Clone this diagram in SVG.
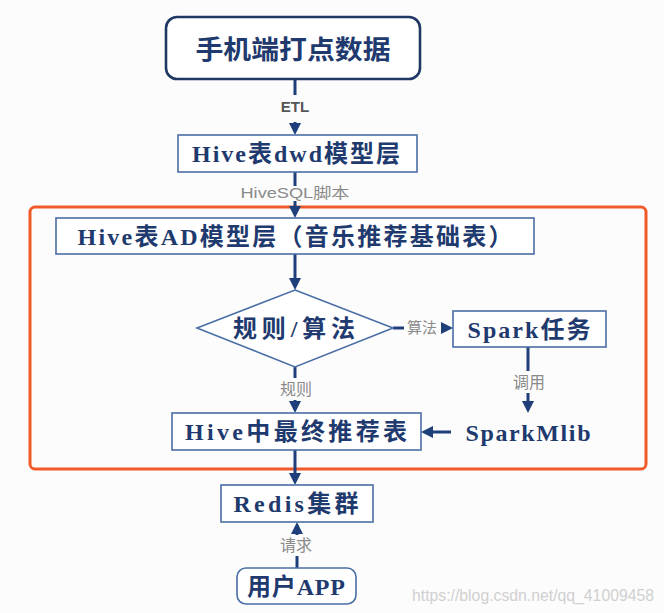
<svg xmlns="http://www.w3.org/2000/svg" width="664" height="613" viewBox="0 0 664 613">
  <style>
    .box { fill: #ffffff; stroke: #4a6ea6; stroke-width: 1.6; }
    .top { fill: #ffffff; stroke: #1f3864; stroke-width: 2.6; }
    .txt { font-family: "Liberation Serif", "Noto Sans CJK SC", serif; font-weight: bold; font-size: 24px; fill: #1f3a6e; text-anchor: middle; }
    .ttl { font-family: "Noto Sans CJK SC", sans-serif; font-weight: bold; font-size: 26px; fill: #1f3a6e; text-anchor: middle; }
    .lbl { font-family: "Liberation Sans", "Noto Sans CJK SC", sans-serif; font-size: 15px; fill: #8a8a8a; text-anchor: middle; }
    .edge { stroke: #1f3f7a; stroke-width: 3; fill: none; }
    .wm { font-family: "Liberation Sans", sans-serif; font-size: 16px; fill: #d0d0d0; }
  </style>
  <defs>
    <marker id="arr" viewBox="0 0 10 10" refX="5" refY="5" markerWidth="12" markerHeight="12" markerUnits="userSpaceOnUse" orient="auto">
      <path d="M0,0 L10,5 L0,10 Z" fill="#1f3f7a"/>
    </marker>
  </defs>
  <rect x="0" y="0" width="664" height="613" fill="#fcfcfc"/>

  <g id="frame">
    <rect x="30" y="207" width="616" height="262" rx="5" fill="none" stroke="#f05a28" stroke-width="3"/>
  </g>

  <g id="connectors">
    <line class="edge" x1="295" y1="79" x2="295" y2="95"/>
    <line class="edge" x1="295" y1="122" x2="295" y2="129" marker-end="url(#arr)"/>
    <text class="lbl" x="295" y="112" font-weight="bold" style="fill:#555555">ETL</text>

    <line class="edge" x1="295" y1="172" x2="295" y2="186"/>
    <line class="edge" x1="295" y1="201" x2="295" y2="212" marker-end="url(#arr)"/>
    <text class="lbl" x="295" y="198" textLength="109" lengthAdjust="spacingAndGlyphs">HiveSQL脚本</text>

    <line class="edge" x1="295" y1="254" x2="295" y2="284" marker-end="url(#arr)"/>

    <line class="edge" x1="393" y1="328" x2="404" y2="328"/>
    <line class="edge" x1="441" y1="328" x2="447" y2="328" marker-end="url(#arr)"/>
    <text class="lbl" x="422" y="333">算法</text>

    <line class="edge" x1="528" y1="347" x2="528" y2="371"/>
    <line class="edge" x1="528" y1="393" x2="528" y2="407" marker-end="url(#arr)"/>
    <text class="lbl" x="529" y="388" style="font-size:16px">调用</text>

    <line class="edge" x1="295" y1="367" x2="295" y2="378"/>
    <line class="edge" x1="295" y1="400" x2="295" y2="407" marker-end="url(#arr)"/>
    <text class="lbl" x="296" y="395" style="font-size:16px">规则</text>

    <line class="edge" x1="451" y1="432" x2="427" y2="432" marker-end="url(#arr)"/>

    <line class="edge" x1="295" y1="450" x2="295" y2="479" marker-end="url(#arr)"/>

    <line class="edge" x1="297" y1="568" x2="297" y2="556"/>
    <line class="edge" x1="297" y1="535" x2="297" y2="528" marker-end="url(#arr)"/>
    <text class="lbl" x="296" y="551" style="font-size:16px">请求</text>
  </g>

  <g id="n-source">
    <rect class="top" x="166" y="17" width="254" height="62" rx="11"/>
    <text class="ttl" x="293" y="59" textLength="195" lengthAdjust="spacingAndGlyphs">手机端打点数据</text>
  </g>

  <g id="n-dwd">
    <rect class="box" x="178" y="135" width="239" height="37"/>
    <text class="txt" x="296" y="162" textLength="208" lengthAdjust="spacing">Hive表dwd模型层</text>
  </g>

  <g id="n-ad">
    <rect class="box" x="56" y="218" width="478" height="36"/>
    <text class="txt" x="295" y="245" textLength="435" lengthAdjust="spacing">Hive表AD模型层（音乐推荐基础表）</text>
  </g>

  <g id="n-decision">
    <polygon class="box" points="295,290 393,328 295,367 197,328"/>
    <text class="txt" x="294" y="337" textLength="122" lengthAdjust="spacing">规则/算法</text>
  </g>

  <g id="n-spark">
    <rect class="box" x="453" y="311" width="153" height="36"/>
    <text class="txt" x="529" y="338" textLength="123" lengthAdjust="spacing">Spark任务</text>
  </g>

  <g id="n-mlib">
    <text class="txt" x="528" y="441" textLength="125" lengthAdjust="spacing">SparkMlib</text>
  </g>

  <g id="n-final">
    <rect class="box" x="172" y="413" width="249" height="37"/>
    <text class="txt" x="296" y="440" textLength="222" lengthAdjust="spacing">Hive中最终推荐表</text>
  </g>

  <g id="n-redis">
    <rect class="box" x="221" y="485" width="152" height="37"/>
    <text class="txt" x="296" y="512" textLength="125" lengthAdjust="spacing">Redis集群</text>
  </g>

  <g id="n-app">
    <rect class="box" x="237" y="568" width="119" height="36" rx="9"/>
    <text class="txt" x="296" y="595" textLength="98" lengthAdjust="spacing">用户APP</text>
  </g>

  <text class="wm" x="412" y="601" textLength="242" lengthAdjust="spacingAndGlyphs">https://blog.csdn.net/qq_41009458</text>
</svg>
